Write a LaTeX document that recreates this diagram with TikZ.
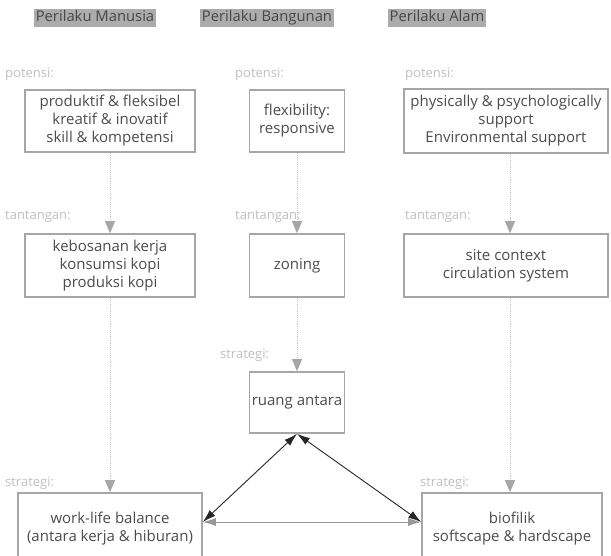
\documentclass[tikz,border=0pt]{standalone}
\usepackage{fontspec}
\setmainfont{Open Sans}
\usetikzlibrary{arrows.meta}
\tikzset{
	head/.style={fill=gray!65, text=black!72, inner xsep=1.5pt, inner ysep=2pt, text height=11pt, text depth=3.5pt, font=\fontsize{14.8}{16}\selectfont},
	box/.style={draw=gray!70, line width=1.6pt, align=center, text=black!70, inner sep=2pt, font=\fontsize{15}{18}\selectfont},
	lbl/.style={anchor=west, text=gray!50, inner sep=0pt, font=\fontsize{13}{14}\selectfont},
	flow/.style={draw=gray!45, densely dotted, line width=0.9pt, -{Triangle[width=10pt,length=12pt,fill=gray!70,color=gray!70]}},
	link/.style={draw=black!85, line width=0.9pt, {Latex[length=13pt,width=8pt]}-{Latex[length=13pt,width=8pt]}}
}
\begin{document}
\begin{tikzpicture}[x=1pt,y=-1pt]
	\useasboundingbox (0,0) rectangle (611,555);
	\begin{scope}
	\clip (0,0) rectangle (611,555);
	%headers
	\node[head] (hm) at (95,18) {Perilaku Manusia};
	\node[head] (hb) at (267,18) {Perilaku Bangunan};
	\node[head] (ha) at (437,18) {Perilaku Alam};
	
	%potensi boxes
	\node[box, minimum width=170, minimum height=62] (pm) at (110,121) {produktif \& fleksibel\\kreatif \& inovatif\\skill \& kompetensi};
	\node[box, minimum width=95, minimum height=62] (pb) at (297,121) {flexibility:\\responsive};
	\node[box, minimum width=204, minimum height=64] (pa) at (506,121) {physically \& psychologically\\support\\Environmental support};
	
	%tantangan boxes
	\node[box, minimum width=170, minimum height=63] (tm) at (110,265.5) {kebosanan kerja\\konsumsi kopi\\produksi kopi};
	\node[box, minimum width=95, minimum height=63] (tb) at (297,265.5) {zoning};
	\node[box, minimum width=204, minimum height=63] (ta) at (506,265.5) {site context\\circulation system};
	
	%strategi boxes
	\node[box, minimum width=95, minimum height=61] (sb) at (297,402.5) {ruang antara};
	\node[box, minimum width=184, minimum height=72] (sm) at (110,529) {work-life balance\\(antara kerja \& hiburan)};
	\node[box, minimum width=180, minimum height=72] (sa) at (512,529) {biofilik\\softscape \& hardscape};
	
	%labels
	\node[lbl] (lpm) at (5,74) {potensi:};
	\node[lbl] (lpb) at (235,74) {potensi:};
	\node[lbl] (lpa) at (405,74) {potensi:};
	\node[lbl] (ltm) at (5,217) {tantangan:};
	\node[lbl] (ltb) at (235,217) {tantangan:};
	\node[lbl] (lta) at (405,217) {tantangan:};
	\node[lbl] (lsb) at (220,355) {strategi:};
	\node[lbl] (lsm) at (5,483) {strategi:};
	\node[lbl] (lsa) at (420,483) {strategi:};
	
	%dotted connectors
	\coordinate (ca) at ([xshift=4pt]pa.south);
	\coordinate (cb) at ([xshift=4pt]ta.south);
	\draw[flow] (pm.south) -- (tm.north);
	\draw[flow] (tm.south) -- (sm.north);
	\draw[flow] (pb.south) -- (tb.north);
	\draw[flow] (tb.south) -- (sb.north);
	\draw[flow] (ca) -- (ca|-ta.north);
	\draw[flow] (cb) -- (cb|-sa.north);
	
	%links
	\coordinate (jm) at (sm.east|-0,522);
	\coordinate (ja) at (sa.west|-0,522);
	\draw[link] (sb.south) -- (jm);
	\draw[link] (sb.south) -- (ja);
	\draw[link, draw=gray!80] (jm) -- (ja);
	\end{scope}
\end{tikzpicture}
\end{document}
